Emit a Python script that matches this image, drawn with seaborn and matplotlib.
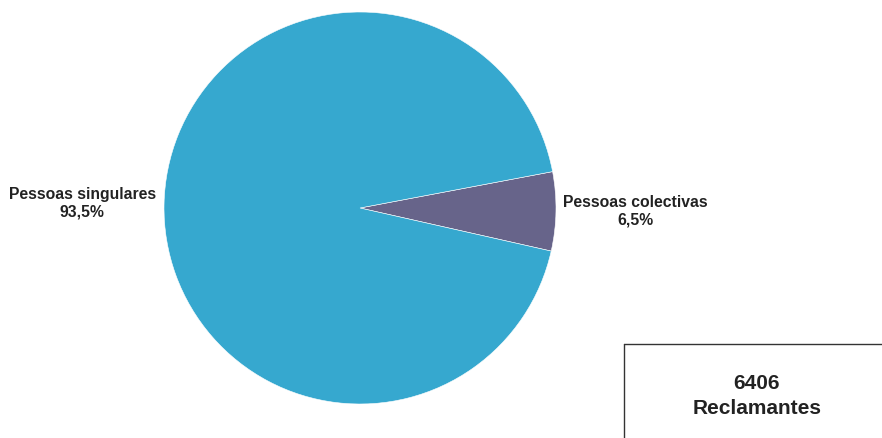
import matplotlib
matplotlib.use("Agg")
import matplotlib.pyplot as plt
from matplotlib.lines import Line2D
import seaborn as sns

# Complainants by type
categories = ["Pessoas colectivas", "Pessoas singulares"]
shares = [6.5, 93.5]
total_claimants = 6406
total_label = "Reclamantes"

sns.set_theme(style="white")
plt.rcParams["font.family"] = ["Liberation Sans", "DejaVu Sans"]

colors = sns.color_palette(["#67648A", "#36A8CF"])

fig = plt.figure(figsize=(8.82, 4.38), dpi=100)
W, H = 882, 438
cx, cy, r = 360, 208, 196
ax = fig.add_axes([(cx - r) / W, (H - cy - r) / H, 2 * r / W, 2 * r / H])

wedges, _ = ax.pie(
    shares,
    colors=colors,
    startangle=-12.7,
    counterclock=True,
    radius=1.0,
    wedgeprops=dict(edgecolor="white", linewidth=0.4),
)
ax.set_xlim(-1, 1)
ax.set_ylim(-1, 1)
ax.set_aspect("equal")
ax.axis("off")

def fmt(v):
    return f"{v:.1f}".replace(".", ",") + "%"

label_pos = {
    "Pessoas colectivas": (1.403, -0.015),
    "Pessoas singulares": (-1.418, 0.026),
}
for name, val in zip(categories, shares):
    x, y = label_pos[name]
    ax.text(x, y, f"{name}\n{fmt(val)}", ha="center", va="center",
            fontsize=11.3, fontweight="bold", color="#222222",
            linespacing=1.2, clip_on=False)

# Summary box in the lower right corner
bx, by = 624, 344
fig.add_artist(Line2D([bx / W, bx / W], [0, 1 - by / H], transform=fig.transFigure,
                      color="#333333", linewidth=1.0))
fig.add_artist(Line2D([bx / W, 1], [1 - by / H, 1 - by / H], transform=fig.transFigure,
                      color="#333333", linewidth=1.0))
fig.text(757 / W, 1 - 396 / H, f"{total_claimants}\n{total_label}",
         ha="center", va="center", fontsize=15, fontweight="bold",
         color="#222222", linespacing=1.35)

fig.savefig("out.png", dpi=100, facecolor="white")
